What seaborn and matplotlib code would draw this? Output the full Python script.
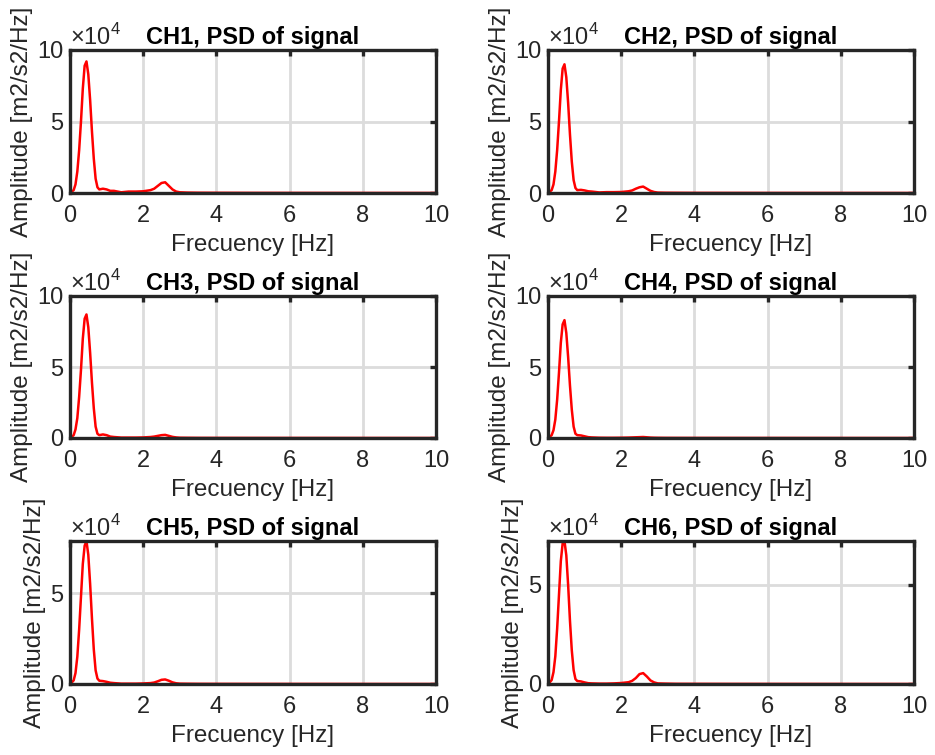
import numpy as np
import pandas as pd
import matplotlib
matplotlib.use("Agg")
import matplotlib.pyplot as plt
import seaborn as sns
from matplotlib.ticker import FuncFormatter, FixedLocator

freq = [0, 0.05, 0.1, 0.15, 0.2, 0.25, 0.3, 0.35, 0.4, 0.45, 0.5, 0.55, 0.6, 0.65,
        0.7, 0.75, 0.8, 0.9, 1.0, 1.1, 1.2, 1.4, 1.6, 1.8, 2.0, 2.2, 2.3, 2.4, 2.5,
        2.6, 2.7, 2.8, 2.9, 3.0, 3.2, 3.5, 4, 5, 6, 7, 8, 9, 10]

# amplitudes in m2/s2/Hz
ch1 = [500, 1000, 2000, 6000, 15000, 30000, 50000, 73000, 89000, 92000, 83000, 65000, 43000, 24000,
       10000, 4000, 2500, 3000, 2500, 1500, 1500, 500, 1000, 1000, 1200, 2000, 3000, 5000, 7000,
       7500, 5000, 2500, 1000, 500, 300, 200, 150, 100, 80, 60, 50, 40, 30]
ch2 = [500, 1000, 2000, 6000, 15000, 30000, 50000, 72000, 87000, 90000, 81000, 63000, 41000, 22000,
       9000, 3500, 2000, 2200, 1800, 1200, 1000, 400, 600, 600, 700, 1200, 1800, 3000, 4000,
       4500, 3000, 1500, 700, 300, 200, 150, 100, 80, 60, 50, 40, 30, 20]
ch3 = [400, 900, 2000, 6000, 14000, 29000, 48000, 70000, 84000, 87000, 78000, 60000, 39000, 21000,
       8000, 3000, 2000, 2500, 2000, 1000, 700, 300, 300, 300, 400, 700, 1000, 1500, 2000,
       2200, 1500, 800, 400, 200, 150, 100, 80, 60, 50, 40, 30, 20, 10]
ch4 = [400, 900, 2000, 5500, 13000, 27000, 46000, 67000, 80000, 83000, 74000, 57000, 37000, 20000,
       8000, 3000, 2000, 1800, 1200, 600, 400, 200, 150, 150, 200, 300, 400, 500, 600,
       700, 500, 300, 200, 150, 100, 80, 60, 50, 40, 30, 20, 10, 10]
ch5 = [400, 900, 2000, 6000, 15000, 30000, 48000, 66000, 76000, 78600, 71000, 55000, 36000, 19000,
       7500, 3000, 1800, 1600, 1200, 700, 500, 200, 200, 200, 300, 500, 800, 1500, 2300,
       2500, 1800, 900, 400, 200, 150, 100, 80, 60, 50, 40, 30, 20, 10]
ch6 = [400, 900, 2000, 6000, 14000, 28000, 45000, 62000, 71000, 72200, 65000, 50000, 32000, 17000,
       7000, 2500, 1500, 1300, 800, 400, 300, 200, 200, 300, 500, 900, 1600, 3000, 5000,
       5500, 3800, 1800, 800, 300, 200, 100, 80, 60, 50, 40, 30, 20, 10]

channels = ["CH1", "CH2", "CH3", "CH4", "CH5", "CH6"]
series = [ch1, ch2, ch3, ch4, ch5, ch6]
ymax = [100000, 100000, 100000, 100000, 78600, 72200]
yticks_list = [[0, 50000, 100000]] * 4 + [[0, 50000], [0, 50000]]
xticks = [0, 2, 4, 6, 8, 10]

sns.set_style("white")
plt.rcParams['font.family'] = ['Liberation Sans', 'DejaVu Sans']
plt.rcParams['mathtext.fontset'] = 'custom'
plt.rcParams['mathtext.rm'] = 'Liberation Sans'

fig = plt.figure(figsize=(9.35, 7.55), dpi=100)

W, H = 935, 755
lefts = [70, 548]
tops = [50, 296, 541]
bottoms = [193, 438, 684]
aw = 366

fmt = FuncFormatter(lambda v, p: f"{v/1e4:g}")
spine_col = "#262626"
txt_col = "#262626"

for i, (name, vals) in enumerate(zip(channels, series)):
    r, c = divmod(i, 2)
    l = lefts[c] / W
    b = 1 - bottoms[r] / H
    h = (bottoms[r] - tops[r]) / H
    ax = fig.add_axes([l, b, aw / W, h])
    df = pd.DataFrame({"f": freq, "a": vals})
    sns.lineplot(data=df, x="f", y="a", ax=ax, color="#ff0000", linewidth=1.8)
    ax.set_xlim(0, 10)
    ax.set_ylim(0, ymax[i])
    ax.xaxis.set_major_locator(FixedLocator(xticks))
    ax.yaxis.set_major_locator(FixedLocator(yticks_list[i]))
    ax.yaxis.set_major_formatter(fmt)
    ax.xaxis.set_major_formatter(FuncFormatter(lambda v, p: f"{v:g}"))
    ax.grid(True, color="#dcdcdc", linewidth=2.0)
    ax.set_axisbelow(True)
    for s in ax.spines.values():
        s.set_visible(True)
        s.set_color(spine_col)
        s.set_linewidth(2.4)
    ax.tick_params(direction="in", length=4, width=2.4, color=spine_col,
                   top=True, right=True, labelsize=17, labelcolor=txt_col)
    ax.tick_params(axis="x", pad=8.5)
    ax.tick_params(axis="y", pad=5)
    ax.set_xlabel("Frecuency [Hz]", fontsize=17.5, color=txt_col, labelpad=5)
    ax.set_ylabel("Amplitude [m2/s2/Hz]", fontsize=17.5, color=txt_col, labelpad=3)
    ax.set_title(f"{name}, PSD of signal", fontsize=17, fontweight="bold",
                 color="#000000", pad=4)
    ax.text(0.0, 1.0, r"$\times10^4$", transform=ax.transAxes, fontsize=17,
            color=txt_col, ha="left", va="bottom")

fig.savefig("out.png", dpi=100)
